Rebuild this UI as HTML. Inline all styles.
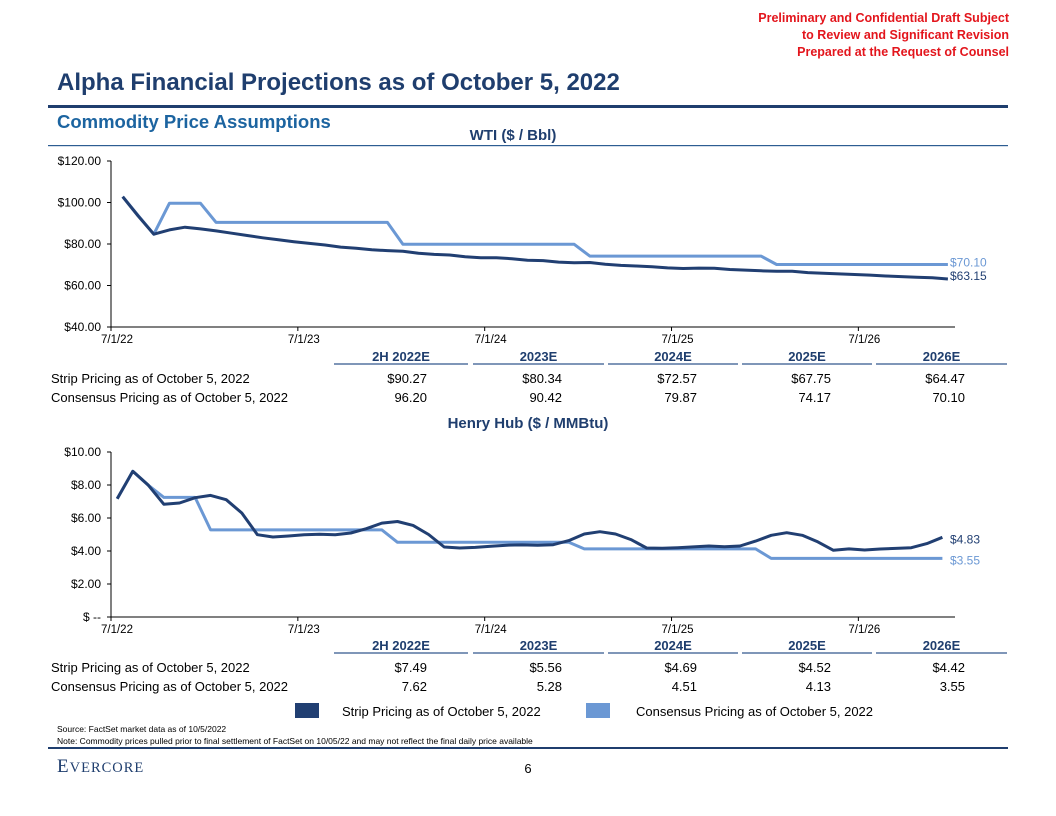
<!DOCTYPE html>
<html><head><meta charset="utf-8">
<style>
html,body{margin:0;padding:0;background:#fff;}
svg{display:block;font-family:"Liberation Sans",sans-serif;}
</style></head>
<body>
<svg id="page" width="1056" height="816" viewBox="0 0 1056 816" xmlns="http://www.w3.org/2000/svg">
<g font-size="12.5" font-weight="bold" fill="#e3151c" text-anchor="end">
<text x="1009" y="22">Preliminary and Confidential Draft Subject</text>
<text x="1009" y="39">to Review and Significant Revision</text>
<text x="1009" y="56">Prepared at the Request of Counsel</text>
</g>
<text x="57" y="90" font-size="24" font-weight="bold" fill="#1f3e6e">Alpha Financial Projections as of October 5, 2022</text>
<rect x="48" y="105" width="960" height="3" fill="#1f3e6e"/>
<text x="57" y="128" font-size="18.5" font-weight="bold" fill="#1c64a0">Commodity Price Assumptions</text>
<rect x="48" y="145" width="960" height="1.2" fill="#2d5d92"/>
<text x="513" y="140" font-size="15" font-weight="bold" fill="#1f3e6e" text-anchor="middle">WTI ($ / Bbl)</text>
<g id="wti"></g>
<text x="528" y="428" font-size="15" font-weight="bold" fill="#1f3e6e" text-anchor="middle">Henry Hub ($ / MMBtu)</text>
<g id="hh"></g>
<g id="tables"></g>
<g>
<rect x="295" y="703" width="24" height="15" fill="#213f72"/>
<text x="342" y="716" font-size="13">Strip Pricing as of October 5, 2022</text>
<rect x="586" y="703" width="24" height="15" fill="#6b98d4"/>
<text x="636" y="716" font-size="13">Consensus Pricing as of October 5, 2022</text>
</g>
<text x="57" y="732" font-size="8.5">Source: FactSet market data as of 10/5/2022</text>
<text x="57" y="744" font-size="8.5">Note: Commodity prices pulled prior to final settlement of FactSet on 10/05/22 and may not reflect the final daily price available</text>
<rect x="48" y="747" width="960" height="2" fill="#1f3e6e"/>
<text x="57" y="772" font-family="'Liberation Serif',serif" font-size="19" fill="#1f3e6e" letter-spacing="1">E<tspan font-size="14.5">VERCORE</tspan></text>
<text x="528" y="773" font-size="13" text-anchor="middle">6</text>
</svg>
<script>
const NS="http://www.w3.org/2000/svg";
const xTickLabels=["7/1/22","7/1/23","7/1/24","7/1/25","7/1/26"];
const wtiStrip=[102.8,93.5,84.7,86.8,88.1,87.3,86.3,85.2,84.1,83.0,82.0,81.1,80.3,79.5,78.5,78.0,77.2,76.8,76.5,75.5,75.0,74.7,73.9,73.4,73.4,72.9,72.2,72.0,71.3,71.0,71.1,70.2,69.7,69.4,69.0,68.5,68.2,68.4,68.3,67.7,67.4,67.1,66.9,66.9,66.2,65.9,65.6,65.3,65.0,64.6,64.3,64.0,63.7,63.15];
const wtiCons=[102.8,93.7,84.7,99.6,99.6,99.6,90.4,90.4,90.4,90.4,90.4,90.4,90.4,90.4,90.4,90.4,90.4,90.4,79.87,79.87,79.87,79.87,79.87,79.87,79.87,79.87,79.87,79.87,79.87,79.87,74.17,74.17,74.17,74.17,74.17,74.17,74.17,74.17,74.17,74.17,74.17,74.17,70.1,70.1,70.1,70.1,70.1,70.1,70.1,70.1,70.1,70.1,70.1,70.1];
const wtiTicks=[40,60,80,100,120];
const wtiTickLabels=["$40.00","$60.00","$80.00","$100.00","$120.00"];
const hhStrip=[7.17,8.83,7.98,6.83,6.91,7.23,7.37,7.11,6.3,4.99,4.85,4.91,4.99,5.01,4.99,5.09,5.35,5.69,5.79,5.55,5.0,4.24,4.18,4.22,4.29,4.35,4.37,4.35,4.38,4.63,5.03,5.17,5.03,4.69,4.18,4.17,4.2,4.25,4.3,4.26,4.3,4.6,4.95,5.11,4.95,4.55,4.04,4.13,4.06,4.12,4.16,4.2,4.45,4.83];
const hhCons=[7.17,8.83,7.98,7.25,7.25,7.25,5.28,5.28,5.28,5.28,5.28,5.28,5.28,5.28,5.28,5.28,5.28,5.28,4.53,4.53,4.53,4.53,4.53,4.53,4.53,4.53,4.53,4.53,4.53,4.53,4.13,4.13,4.13,4.13,4.13,4.13,4.13,4.13,4.13,4.13,4.13,4.13,3.55,3.55,3.55,3.55,3.55,3.55,3.55,3.55,3.55,3.55,3.55,3.55];
const hhTicks=[0,2,4,6,8,10];
const hhTickLabels=["$ --","$2.00","$4.00","$6.00","$8.00","$10.00"];
const periods=["2H 2022E","2023E","2024E","2025E","2026E"];
const wtiStripAvg=["$90.27","$80.34","$72.57","$67.75","$64.47"];
const wtiConsAvg=["96.20","90.42","79.87","74.17","70.10"];
const hhStripAvg=["$7.49","$5.56","$4.69","$4.52","$4.42"];
const hhConsAvg=["7.62","5.28","4.51","4.13","3.55"];

function mk(parent,tag,attrs){const e=document.createElementNS(NS,tag);for(const k in attrs)e.setAttribute(k,attrs[k]);parent.appendChild(e);return e;}

function chart(g,cfg){
  const xS=m=>cfg.x0+m*15.57;
  const yS=v=>cfg.yBot-(v-cfg.vMin)/(cfg.vMax-cfg.vMin)*(cfg.yBot-cfg.yTop);
  const ax=mk(g,"line",{x1:xS(0),x2:955,y1:cfg.yBot,y2:cfg.yBot,stroke:"#000","stroke-width":1});
  
  
  const ay=mk(g,"line",{x1:xS(0),x2:xS(0),y1:cfg.yTop,y2:cfg.yBot,stroke:"#000","stroke-width":1});
  
  
  cfg.ticks.forEach((v,i)=>{
    mk(g,"line",{x1:xS(0)-4,x2:xS(0),y1:yS(v),y2:yS(v),stroke:"#000"});
    const t=mk(g,"text",{x:xS(0)-10,y:yS(v)+4,"font-size":12,"text-anchor":"end"});
    t.textContent=cfg.tickLabels[i];
    
    
  });
  xTickLabels.forEach((l,i)=>{
    const x=xS(i*12);
    mk(g,"line",{x1:x,x2:x,y1:cfg.yBot,y2:cfg.yBot+4,stroke:"#000"});
    const t=mk(g,"text",{x:x+6,y:cfg.yBot+16,"font-size":11.5,"text-anchor":"middle"});
    t.textContent=l;
    
    
  });
  [[cfg.cons,"#6b98d4","consensus-line"],[cfg.strip,"#213f72","strip-line"]].forEach(([arr,col,name])=>{
    const pts=arr.map((v,i)=>xS(cfg.off+i).toFixed(1)+","+yS(v).toFixed(1)).join(" ");
    const p=mk(g,"polyline",{points:pts,fill:"none",stroke:col,"stroke-width":3,"stroke-linejoin":"round"});
    
    
  });
  cfg.endLabels.forEach(([arr,col,dy,name])=>{
    const v=arr[arr.length-1];
    const t=mk(g,"text",{x:950,y:yS(v)+dy,"font-size":12,fill:col});
    t.textContent="$"+v.toFixed(2);
    
    
  });
}
chart(document.getElementById("wti"),{x0:111,off:0.75,yTop:161,yBot:327,vMin:40,vMax:120,ticks:wtiTicks,tickLabels:wtiTickLabels,strip:wtiStrip,cons:wtiCons,
  endLabels:[[wtiCons,"#6b98d4",2,"wti-consensus-end-label"],[wtiStrip,"#213f72",1,"wti-strip-end-label"]]});
chart(document.getElementById("hh"),{x0:111,off:0.4,yTop:452,yBot:617,vMin:0,vMax:10,ticks:hhTicks,tickLabels:hhTickLabels,strip:hhStrip,cons:hhCons,
  endLabels:[[hhStrip,"#213f72",6,"hh-strip-end-label"],[hhCons,"#6b98d4",6,"hh-consensus-end-label"]]});

function table(y0,strip,cons,name){
  const g=mk(document.getElementById("tables"),"g",{});
  
  
  const segs=[[334,468],[473,604],[608,738],[742,872],[876,1007]];
  const rights=[427,562,697,831,965];
  periods.forEach((p,i)=>{
    const [a,b]=segs[i];
    const h=mk(g,"text",{x:(a+b)/2,y:y0+3,"font-size":13,"font-weight":"bold",fill:"#1f3e6e","text-anchor":"middle"});
    h.textContent=p;
    
    
    mk(g,"rect",{x:a,y:y0+5,width:b-a,height:2,fill:"#7f96b8"});
    const s=mk(g,"text",{x:rights[i],y:y0+25,"font-size":13,"text-anchor":"end"});s.textContent=strip[i];
    
    
    const c=mk(g,"text",{x:rights[i],y:y0+44,"font-size":13,"text-anchor":"end"});c.textContent=cons[i];
    
    
  });
  const r1=mk(g,"text",{x:51,y:y0+25,"font-size":13});r1.textContent="Strip Pricing as of October 5, 2022";
  
  
  const r2=mk(g,"text",{x:51,y:y0+44,"font-size":13});r2.textContent="Consensus Pricing as of October 5, 2022";
  
  
}
table(358,wtiStripAvg,wtiConsAvg,"wti-summary-table");
table(647,hhStripAvg,hhConsAvg,"hh-summary-table");
</script>
</body></html>
